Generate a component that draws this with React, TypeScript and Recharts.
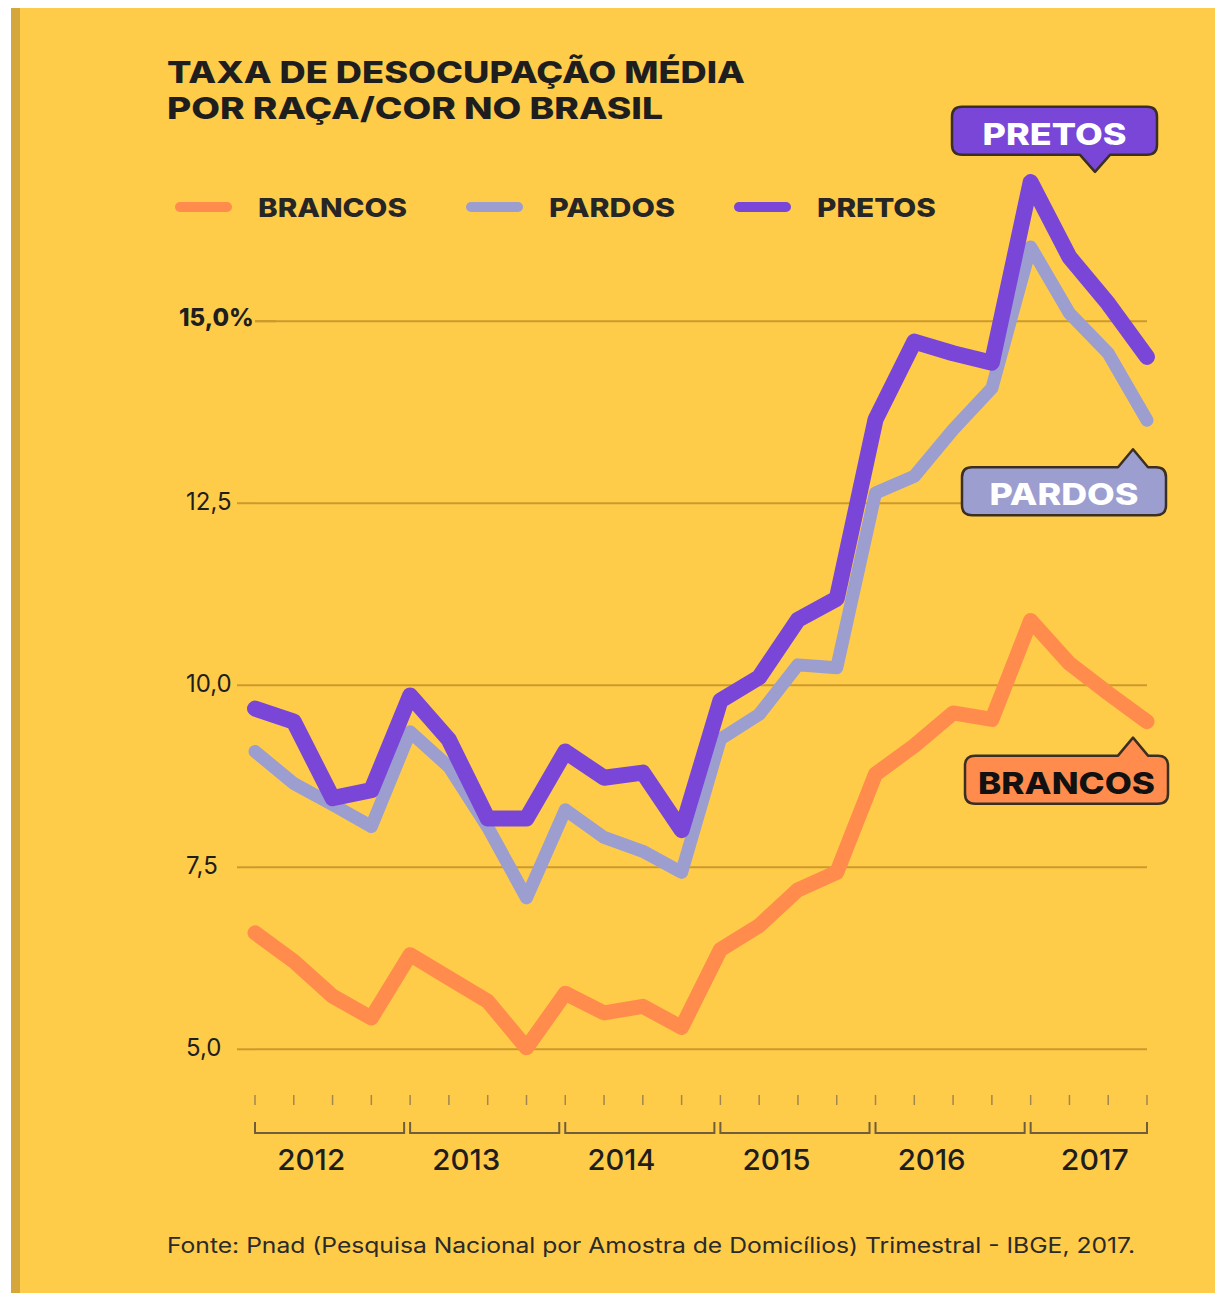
import React from "react";
import { LineChart, Line, XAxis, YAxis, CartesianGrid, Legend } from "recharts";

// trimestres 2012 T1 .. 2017 T4
const years = ["2012", "2013", "2014", "2015", "2016", "2017"];
const quarters = years.flatMap((y) => ["1", "2", "3", "4"].map((t) => `${t}º tri ${y}`));

const brancos = [6.6, 6.21, 5.73, 5.43, 6.3, 5.98, 5.66, 5.02, 5.77, 5.5, 5.59, 5.3, 6.37, 6.7, 7.19, 7.43, 8.78, 9.17, 9.62, 9.53, 10.89, 10.3, 9.89, 9.5];
const pardos = [9.09, 8.65, 8.36, 8.06, 9.36, 8.88, 8.05, 7.08, 8.29, 7.91, 7.72, 7.43, 9.26, 9.6, 10.28, 10.24, 12.64, 12.87, 13.51, 14.08, 16.02, 15.11, 14.56, 13.64];
const pretos = [9.68, 9.5, 8.45, 8.56, 9.86, 9.25, 8.17, 8.17, 9.09, 8.73, 8.8, 8.01, 9.79, 10.11, 10.9, 11.19, 13.65, 14.72, 14.56, 14.43, 16.91, 15.88, 15.24, 14.51];

const yTicks = [5, 7.5, 10, 12.5, 15];
const yTickLabels = ["5,0", "7,5", "10,0", "12,5", "15,0%"];

const data = quarters.map((q, i) => ({ q, brancos: brancos[i], pardos: pardos[i], pretos: pretos[i] }));

const W = 1215;
const H = 1293;
const MARGIN = { top: 161, right: 68, bottom: 100, left: 195 };
const Y_AXIS_W = 60;
const PLOT_LEFT = MARGIN.left + Y_AXIS_W;
const PLOT_W = W - PLOT_LEFT - MARGIN.right;
const STEP = PLOT_W / (quarters.length - 1);
const LAST = quarters.length - 1;

const BG = "#FFCC4A";
const GRID = "#CC9A2C";
const INK = "#1e1e1e";
const FONT = "Inter, 'Noto Sans', sans-serif";

const series = [
  { key: "brancos", name: "BRANCOS", color: "#FF8C4C", width: 15, legendW: 149, textFill: "#111111", bubble: { dx: -182, dy: 34, w: 203, h: 48, tipDx: -14, tipDy: 16, side: "top", textW: 177 } },
  { key: "pardos", name: "PARDOS", color: "#9C9ED0", width: 13, legendW: 126, textFill: "#ffffff", bubble: { dx: -185, dy: 47, w: 204, h: 48, tipDx: -14, tipDy: 29, side: "top", textW: 149 } },
  { key: "pretos", name: "PRETOS", color: "#7A46D8", width: 16, legendW: 119, textFill: "#ffffff", bubble: { dx: -195, dy: -250, w: 205, h: 48, tipDx: -52, tipDy: -185, side: "bottom", textW: 144 } },
];

function bubblePath(x: number, y: number, w: number, h: number, tx: number, ty: number, side: string) {
  const r = 10;
  const hw = 15;
  if (side === "bottom") {
    return `M${x + r},${y} H${x + w - r} Q${x + w},${y} ${x + w},${y + r} V${y + h - r} Q${x + w},${y + h} ${x + w - r},${y + h} H${tx + hw} L${tx},${ty} L${tx - hw},${y + h} H${x + r} Q${x},${y + h} ${x},${y + h - r} V${y + r} Q${x},${y} ${x + r},${y} Z`;
  }
  return `M${x + r},${y} H${tx - hw} L${tx},${ty} L${tx + hw},${y} H${x + w - r} Q${x + w},${y} ${x + w},${y + r} V${y + h - r} Q${x + w},${y + h} ${x + w - r},${y + h} H${x + r} Q${x},${y + h} ${x},${y + h - r} V${y + r} Q${x},${y} ${x + r},${y} Z`;
}

function Callout({ cx, cy, s }: any) {
  const b = s.bubble;
  const x = cx + b.dx;
  const y = cy + b.dy;
  return (
    <g>
      <path d={bubblePath(x, y, b.w, b.h, cx + b.tipDx, cy + b.tipDy, b.side)} fill={s.color} stroke="#3a2f22" strokeWidth={2.5} strokeLinejoin="round" />
      <text x={x + b.w / 2} y={y + 38} textAnchor="middle" fontFamily={FONT} fontWeight={800} fontSize={30} fill={s.textFill} textLength={b.textW} lengthAdjust="spacingAndGlyphs">
        {s.name}
      </text>
    </g>
  );
}

const XTick = (props: any) => {
  const { x, y, index } = props;
  const yearIdx = Math.floor(index / 4);
  const lastYear = yearIdx === years.length - 1;
  const end = lastYear ? x + 3 * STEP : x + 4 * STEP - 6;
  const labelX = lastYear ? x + 1.5 * STEP + 6 : x + 1.5 * STEP - 2;
  return (
    <g>
      <line x1={x} x2={x} y1={y + 2} y2={y + 12} stroke="#a08650" strokeWidth={1.5} />
      {index % 4 === 0 && (
        <g>
          <path d={`M${x},${y + 29} V${y + 40} H${end} V${y + 29}`} fill="none" stroke="#6f5d3c" strokeWidth={2} />
          <text x={labelX} y={y + 77} textAnchor="middle" fontFamily={FONT} fontWeight={500} fontSize={29} fill={INK} textLength={68} lengthAdjust="spacingAndGlyphs">
            {years[yearIdx]}
          </text>
        </g>
      )}
    </g>
  );
};

const YTick = (props: any) => {
  const { y, payload } = props;
  const i = yTicks.indexOf(payload.value);
  const bold = payload.value === 15;
  return (
    <g>
      <line x1={bold ? 276 : 237} x2={PLOT_LEFT} y1={y} y2={y} stroke={GRID} strokeWidth={2} />
      <text x={bold ? 179 : 186} y={y + (bold ? 5 : 7)} fontFamily={FONT} fontWeight={bold ? 800 : 400} fontSize={24} fill={INK}>
        {yTickLabels[i]}
      </text>
    </g>
  );
};

const renderLegend = () => {
  let cursor = 175;
  return (
    <svg width={W} height={40} style={{ display: "block" }}>
      {series.map((s) => {
        const lx = cursor;
        const tx = lx + 57 + 26;
        cursor = tx + s.legendW + 59;
        return (
          <g key={s.key}>
            <line x1={lx + 5} x2={lx + 52} y1={19} y2={19} stroke={s.color} strokeWidth={10} strokeLinecap="round" />
            <text x={tx} y={29} fontFamily={FONT} fontWeight={800} fontSize={26} fill="#262626" textLength={s.legendW} lengthAdjust="spacingAndGlyphs">
              {s.name}
            </text>
          </g>
        );
      })}
    </svg>
  );
};

export default function App() {
  return (
    <div style={{ position: "absolute", left: 0, top: 0, width: W, height: H, overflow: "hidden", background: "#ffffff" }}>
      <div style={{ position: "absolute", left: 11, top: 8, width: W - 11, height: H - 8, background: BG }} />
      <div style={{ position: "absolute", left: 11, top: 8, width: 9, height: H - 8, background: "#D4A63C" }} />
      <div style={{ position: "absolute", left: 0, top: 0 }}>
        <LineChart width={W} height={H} data={data} margin={MARGIN}>
          <CartesianGrid vertical={false} horizontalValues={yTicks} stroke={GRID} strokeWidth={2} />
          <XAxis dataKey="q" interval={0} axisLine={false} tickLine={false} tickSize={0} tickMargin={0} height={100} padding={{ left: 0, right: 0 }} tick={<XTick />} />
          <YAxis type="number" domain={[4.4, 17.2]} ticks={yTicks} axisLine={false} tickLine={false} width={Y_AXIS_W} tick={<YTick />} />
          <Legend layout="horizontal" verticalAlign="middle" align="center" content={renderLegend} wrapperStyle={{ position: "absolute", top: 188, left: 0, width: W, height: 40, margin: 0 }} />
          {series.map((s) => (
            <Line
              key={s.key}
              type="linear"
              dataKey={s.key}
              name={s.name}
              stroke={s.color}
              strokeWidth={s.width}
              strokeLinejoin="round"
              strokeLinecap="round"
              activeDot={false}
              isAnimationActive={false}
              dot={(p: any) => (p.index === LAST ? <Callout key={`c-${s.key}`} cx={p.cx} cy={p.cy} s={s} /> : <g key={`d-${s.key}-${p.index}`} />)}
            />
          ))}
        </LineChart>
      </div>
      <svg width={W} height={H} style={{ position: "absolute", left: 0, top: 0, pointerEvents: "none" }}>
        <text x={167} y={83} fontFamily={FONT} fontWeight={800} fontSize={30} fill={INK} textLength={578} lengthAdjust="spacingAndGlyphs">
          TAXA DE DESOCUPAÇÃO MÉDIA
        </text>
        <text x={167} y={119} fontFamily={FONT} fontWeight={800} fontSize={30} fill={INK} textLength={496} lengthAdjust="spacingAndGlyphs">
          POR RAÇA/COR NO BRASIL
        </text>
        <text x={167} y={1253} fontFamily={FONT} fontWeight={400} fontSize={21} fill="#2a2a2a" textLength={968} lengthAdjust="spacingAndGlyphs">
          Fonte: Pnad (Pesquisa Nacional por Amostra de Domicílios) Trimestral - IBGE, 2017.
        </text>
      </svg>
    </div>
  );
}
